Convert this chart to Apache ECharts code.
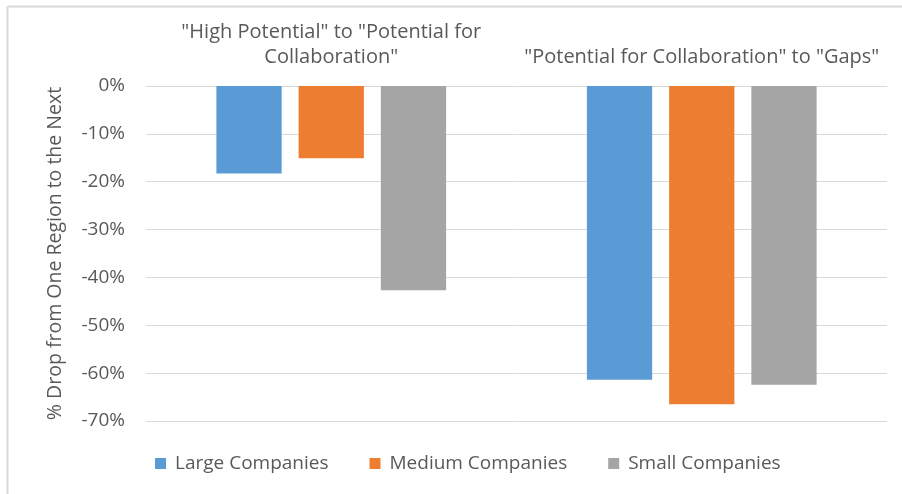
<!DOCTYPE html>
<html><head><meta charset="utf-8">
<script src="https://cdn.jsdelivr.net/npm/echarts@6/dist/echarts.min.js"></script>
<style>html,body{margin:0;padding:0;background:#fff}#c{width:902px;height:494px}</style>
</head><body><div id="c"></div>
<script>
var categories = ['"High Potential" to "Potential for\nCollaboration"', '"Potential for Collaboration" to "Gaps"'];
var seriesNames = ['Large Companies', 'Medium Companies', 'Small Companies'];
var largeValues = [-0.183, -0.614];
var mediumValues = [-0.151, -0.665];
var smallValues = [-0.427, -0.624];
var yTicks = [0, -0.1, -0.2, -0.3, -0.4, -0.5, -0.6, -0.7];
var colors = ['#5b9bd5', '#ed7d31', '#a5a5a5'];
var font = '"Open Sans", sans-serif';
var txt = '#595959';
var chart = echarts.init(document.getElementById('c'));
var vals = [largeValues, mediumValues, smallValues];
chart.setOption({
  animation: false,
  color: colors,
  graphic: [
    {type: 'line', shape: {x1: 7.5, y1: 6.5, x2: 902, y2: 6.5}, style: {stroke: '#d9d9d9', lineWidth: 2}},
    {type: 'line', shape: {x1: 7.5, y1: 6.5, x2: 7.5, y2: 494}, style: {stroke: '#d9d9d9', lineWidth: 2}}
  ],
  grid: {left: 146, right: 15, top: 86, bottom: 73, containLabel: false},
  legend: {
    bottom: 16, left: 150, itemWidth: 11, itemHeight: 11, itemGap: 41,
    icon: 'rect',
    textStyle: {fontFamily: font, fontSize: 19, color: txt, padding: [0, 0, 0, 4]},
    data: seriesNames
  },
  xAxis: {
    type: 'category', position: 'top', data: categories,
    axisLine: {show: true, lineStyle: {color: '#d9d9d9', width: 1}},
    axisTick: {show: false},
    axisLabel: {fontFamily: font, fontSize: 20, color: txt, margin: 16, lineHeight: 25, interval: 0}
  },
  yAxis: {
    type: 'value', min: -0.7, max: 0, interval: 0.1,
    name: '% Drop from One Region to the Next', nameLocation: 'middle', nameGap: 81,
    nameTextStyle: {fontFamily: font, fontSize: 19.5, color: txt},
    axisLine: {show: false}, axisTick: {show: false},
    splitLine: {lineStyle: {color: '#d9d9d9', width: 1}},
    axisLabel: {fontFamily: font, fontSize: 19, color: txt, margin: 21,
      formatter: function (v) { return Math.round(v * 100) + '%'; }}
  },
  series: seriesNames.map(function (n, i) {
    return {name: n, type: 'bar', data: vals[i], barGap: '26%', barCategoryGap: '38%',
      itemStyle: {color: colors[i]}};
  })
});
</script></body></html>
